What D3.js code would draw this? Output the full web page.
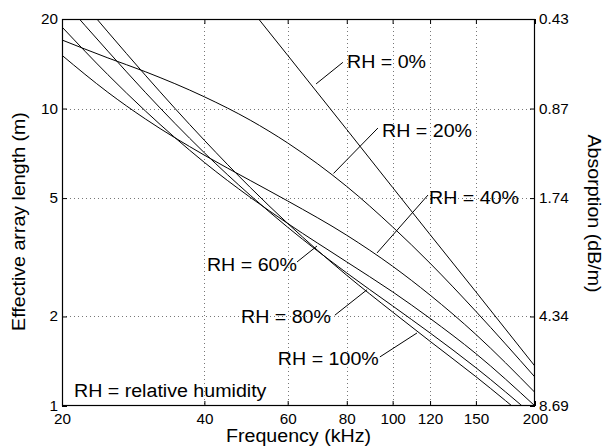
<!DOCTYPE html>
<html>
<head>
<meta charset="utf-8">
<script src="https://cdn.jsdelivr.net/npm/d3@7"></script>
<style>
  html, body { margin: 0; padding: 0; background: #fff; }
  svg { display: block; }
  text { font-family: "Liberation Sans", Arial, Helvetica, sans-serif; fill: #000; }
</style>
</head>
<body>
<svg id="chart" width="603" height="447"></svg>
<script>
// ---- data ----
const freqs = [20, 25, 30, 40, 50, 60, 80, 100, 120, 150, 200];           // kHz
const rh0   = [136, 87, 60, 34, 21.7, 15.1, 8.5, 5.43, 3.77, 2.42, 1.36];  // m
const rh20  = [17.0, 14.8, 13.3, 10.95, 9.14, 7.66, 5.47, 4.0, 3.02, 2.08, 1.25];
const rh40  = [15.1, 11.34, 9.23, 6.97, 5.73, 4.89, 3.75, 2.95, 2.36, 1.74, 1.11];
const rh60  = [18.8, 13.0, 9.82, 6.59, 5.03, 4.11, 3.05, 2.42, 1.97, 1.50, 1.00];
const rh80  = [23.3, 15.6, 11.34, 7.10, 5.11, 3.99, 2.80, 2.17, 1.76, 1.345, 0.919];
const rh100 = [27.5, 18.1, 12.95, 7.82, 5.43, 4.11, 2.75, 2.07, 1.65, 1.255, 0.862];
const seriesNames = ["RH = 0%", "RH = 20%", "RH = 40%", "RH = 60%", "RH = 80%", "RH = 100%"];
const seriesValues = [rh0, rh20, rh40, rh60, rh80, rh100];

const xTicks = [20, 40, 60, 80, 100, 120, 150, 200];
const yTicks = [1, 2, 5, 10, 20];
const rightTickLabels = ["8.69", "4.34", "1.74", "0.87", "0.43"];

// annotation anchors in data units: [label f, label L, pointer start f, L, pointer end f, L]
const annotations = [
  { text: "RH = 0%",   label: [80.1, 13.7],  from: [78.5, 14.3],  to: [68.9, 12.1] },
  { text: "RH = 20%",  label: [95.0, 8.03],  from: [93.1, 8.60],  to: [75.0, 6.05] },
  { text: "RH = 40%",  label: [119.4, 4.78], from: [118.8, 5.12], to: [92.7, 3.27] },
  { text: "RH = 60%",  label: [40.5, 2.84],  from: [62.8, 3.05],  to: [69.2, 3.45] },
  { text: "RH = 80%",  label: [47.8, 1.90],  from: [75.5, 2.02],  to: [88.3, 2.46] },
  { text: "RH = 100%", label: [57.2, 1.374], from: [94.0, 1.462], to: [112.6, 1.76] }
];
const noteText = "RH = relative humidity";
const notePos = [21.2, 1.074];

// ---- layout ----
const L = 62, R = 535, T = 19, B = 406;
const svg = d3.select("#chart");
const x = d3.scaleLog().domain([20, 200]).range([L, R]);
const y = d3.scaleLog().domain([1, 20]).range([B, T]);

svg.append("defs").append("clipPath").attr("id", "plotclip")
  .append("rect").attr("x", L).attr("y", T).attr("width", R - L).attr("height", B - T);

// grid
const grid = svg.append("g");
grid.selectAll("line.gx").data(xTicks.filter(d => d !== 20 && d !== 200)).join("line")
  .attr("x1", d => Math.round(x(d)) + 0.5).attr("x2", d => Math.round(x(d)) + 0.5)
  .attr("y1", T).attr("y2", B)
  .attr("stroke", "#777").attr("stroke-width", 1).attr("stroke-dasharray", "1 3");
grid.selectAll("line.gy").data(yTicks.filter(d => d !== 1 && d !== 20)).join("line")
  .attr("y1", d => Math.round(y(d)) + 0.5).attr("y2", d => Math.round(y(d)) + 0.5)
  .attr("x1", L).attr("x2", R)
  .attr("stroke", "#777").attr("stroke-width", 1).attr("stroke-dasharray", "1 3");

// curves
const line = d3.line().x(d => x(d[0])).y(d => y(d[1])).curve(d3.curveMonotoneX);
svg.append("g").attr("clip-path", "url(#plotclip)")
  .selectAll("path").data(seriesValues).join("path")
  .attr("d", vals => line(freqs.map((f, i) => [f, vals[i]])))
  .attr("fill", "none").attr("stroke", "#000").attr("stroke-width", 1);

// axes
function styleAxis(g) {
  g.select(".domain").remove();
  g.selectAll("line").attr("stroke", "#000");
  g.selectAll("text").attr("font-size", 14).attr("font-family", null);
  g.attr("font-family", null).attr("font-size", null);
}
svg.append("g").attr("transform", `translate(0,${B})`)
  .call(d3.axisBottom(x).tickValues(xTicks).tickFormat(d => String(d))
    .tickSizeInner(-5).tickSizeOuter(0).tickPadding(8))
  .call(styleAxis);
svg.append("g").attr("transform", `translate(0,${T})`)
  .call(d3.axisTop(x).tickValues(xTicks).tickFormat("").tickSizeInner(-5).tickSizeOuter(0))
  .call(styleAxis);
svg.append("g").attr("transform", `translate(${L},0)`)
  .call(d3.axisLeft(y).tickValues(yTicks).tickFormat(d => String(d))
    .tickSizeInner(-5).tickSizeOuter(0).tickPadding(4))
  .call(styleAxis);
svg.append("g").attr("transform", `translate(${R},0)`)
  .call(d3.axisRight(y).tickValues(yTicks).tickFormat((d, i) => rightTickLabels[i])
    .tickSizeInner(-5).tickSizeOuter(0).tickPadding(4))
  .call(styleAxis);

// box
svg.append("rect").attr("x", L + 0.5).attr("y", T + 0.5)
  .attr("width", R - L - 1).attr("height", B - T - 1)
  .attr("fill", "none").attr("stroke", "#000").attr("stroke-width", 1.2);

// annotations
const ann = svg.append("g");
annotations.forEach(a => {
  ann.append("line")
    .attr("x1", x(a.from[0])).attr("y1", y(a.from[1]))
    .attr("x2", x(a.to[0])).attr("y2", y(a.to[1]))
    .attr("stroke", "#000").attr("stroke-width", 1);
  ann.append("text").attr("x", x(a.label[0])).attr("y", y(a.label[1]))
    .attr("font-size", 18).text(a.text);
});
ann.append("text").attr("x", x(notePos[0])).attr("y", y(notePos[1]))
  .attr("font-size", 18).text(noteText);

// axis titles
svg.append("text").attr("x", (L + R) / 2).attr("y", 442)
  .attr("text-anchor", "middle").attr("font-size", 18).text("Frequency (kHz)");
svg.append("text").attr("transform", `translate(25,${(T + B) / 2 + 9}) rotate(-90)`)
  .attr("text-anchor", "middle").attr("font-size", 18).text("Effective array length (m)");
svg.append("text").attr("transform", `translate(588,${(T + B) / 2 + 1}) rotate(90)`)
  .attr("text-anchor", "middle").attr("font-size", 18).text("Absorption (dB/m)");

// the reference font is slightly wider than Arial metrics
svg.selectAll("text").each(function () {
  const len = this.getComputedTextLength();
  if (len > 0) d3.select(this).attr("textLength", len * 1.09).attr("lengthAdjust", "spacingAndGlyphs");
});
</script>
</body>
</html>
